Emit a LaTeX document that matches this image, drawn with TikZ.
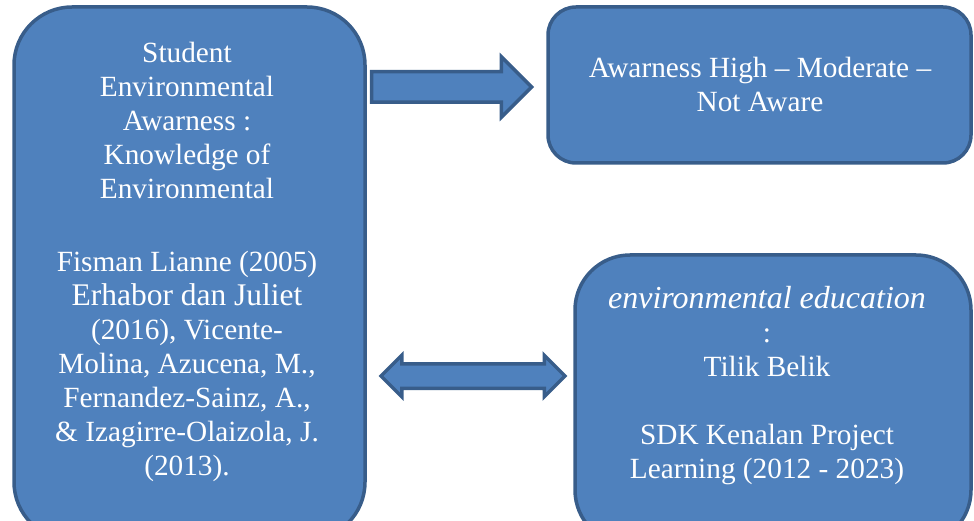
\documentclass[tikz,border=0pt]{standalone}
\usepackage{fontspec}
\setmainfont{Liberation Serif}
\usetikzlibrary{shapes.arrows}
\definecolor{boxfill}{HTML}{4F81BD}
\definecolor{boxline}{HTML}{385D8A}
\tikzset{
  box/.style={draw=boxline, fill=boxfill, line width=3.5pt, rectangle, inner sep=0pt},
  txt/.style={text=white, align=center, inner sep=0pt, font=\fontsize{29.3}{34}\selectfont},
  blockarrow/.style={draw=boxline, fill=boxfill, line width=3.5pt, inner xsep=0pt}
}
\begin{document}
\begin{tikzpicture}[x=1pt,y=-1pt]
\useasboundingbox (0,0) rectangle (974,521);
\clip (0,0) rectangle (974,521);
% boxes
\node[box, rounded corners=58pt, minimum width=351pt, minimum height=533pt] (L) at (189.5,273.5) {};
\node[box, rounded corners=28pt, minimum width=423pt, minimum height=156pt] (TR) at (759.5,85) {};
\node[box, rounded corners=55pt, minimum width=396pt, minimum height=290pt] (BR) at (773,400) {};
% arrows
\node[blockarrow, single arrow, single arrow head extend=15pt, inner ysep=13.5pt, minimum height=160pt] (A1) at (444,87) {};
\node[blockarrow, double arrow, double arrow head extend=8.5pt, inner ysep=10.5pt, minimum height=184pt] (A2) at (473,376) {};
% texts
\node[txt, anchor=north] (Lt1) at (187,41.5) {Student\\Environmental\\Awarness :\\Knowledge of\\Environmental};
\node[txt, anchor=north] (Lt2) at (187,251) {Fisman Lianne (2005)\\{\fontsize{31.5}{34}\selectfont Erhabor dan Juliet}\\(2016), Vicente-\\Molina, Azucena, M.,\\Fernandez-Sainz, A.,\\\& Izagirre-Olaizola, J.\\(2013).};
\node[txt, anchor=north] (TRt) at (760,57) {Awarness High -- Moderate --\\Not Aware};
\node[txt, anchor=north] (BRt) at (767,286) {{\fontsize{32}{34}\selectfont\itshape environmental education}\\:\\Tilik Belik\\[34pt]SDK Kenalan Project\\Learning (2012 - 2023)};
\end{tikzpicture}
\end{document}
